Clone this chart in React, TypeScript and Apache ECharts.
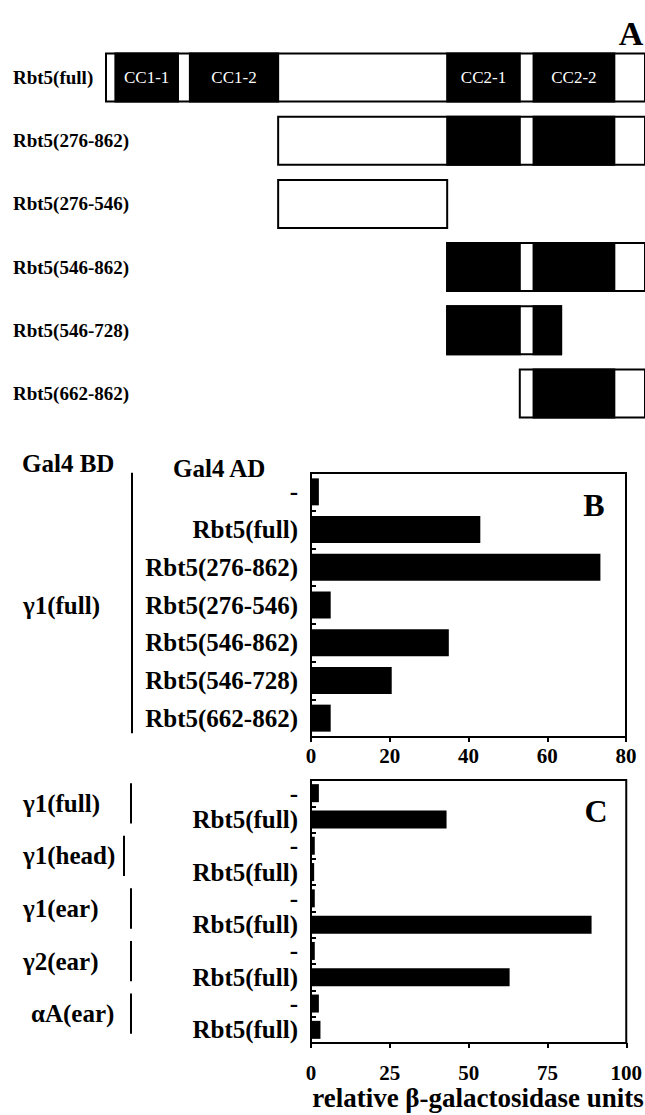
import React, { useEffect, useRef } from "react";
import * as echarts from "echarts";

// ---------- Panel A: construct schematic (residue numbers) ----------
const constructNames = ["Rbt5(full)", "Rbt5(276-862)", "Rbt5(276-546)", "Rbt5(546-862)", "Rbt5(546-728)", "Rbt5(662-862)"];
const constructStart = [1, 276, 276, 546, 546, 662];
const constructEnd = [862, 862, 546, 862, 728, 862];
const domainNames = ["CC1-1", "CC1-2", "CC2-1", "CC2-2"];
const domainStart = [16, 135, 546, 684];
const domainEnd = [116, 276, 662, 813];

// ---------- Panel B ----------
const panelBCategories = ["-", "Rbt5(full)", "Rbt5(276-862)", "Rbt5(276-546)", "Rbt5(546-862)", "Rbt5(546-728)", "Rbt5(662-862)"];
const panelBValues = [2, 43, 73.5, 5, 35, 20.5, 5];
const panelBBait = "γ1(full)";

// ---------- Panel C ----------
const panelCCategories = ["-", "Rbt5(full)", "-", "Rbt5(full)", "-", "Rbt5(full)", "-", "Rbt5(full)", "-", "Rbt5(full)"];
const panelCValues = [2.5, 43, 1.2, 1, 1.2, 89, 1.2, 63, 2.5, 3];
const panelCBaits = ["γ1(full)", "γ1(head)", "γ1(ear)", "γ2(ear)", "αA(ear)"];

const xTitle = "relative β-galactosidase units";
const FONT = '"Liberation Serif", "Times New Roman", serif';

function buildSegments() {
  const data: any[] = [];
  const labels: string[] = [];
  constructNames.forEach((_, i) => {
    data.push([i, constructStart[i], constructEnd[i], 0]);
    labels.push("");
    domainNames.forEach((dn, d) => {
      const s = Math.max(constructStart[i], domainStart[d]);
      const e = Math.min(constructEnd[i], domainEnd[d]);
      if (e > s) {
        data.push([i, s, e, 1]);
        labels.push(i === 0 ? dn : "");
      }
    });
  });
  return { data, labels };
}

export default function App() {
  const ref = useRef<HTMLDivElement>(null);
  useEffect(() => {
    if (!ref.current) return;
    const chart = echarts.init(ref.current, null, { renderer: "svg" });
    const seg = buildSegments();
    const boldLabel = { fontFamily: FONT, fontWeight: "bold" as const, color: "#000" };

    const option: any = {
      animation: false,
      backgroundColor: "#fff",
      grid: [
        { left: 106, right: -3, top: 46, height: 379 },
        { left: 311, right: 19, top: 473, height: 264, show: true, borderColor: "#000", borderWidth: 2 },
        { left: 311, right: 17, top: 780, height: 263, show: true, borderColor: "#000", borderWidth: 2 },
      ],
      xAxis: [
        { gridIndex: 0, type: "value", min: 1, max: 862, show: false },
        {
          gridIndex: 1, type: "value", min: 0, max: 80, interval: 20,
          splitLine: { show: false },
          axisLine: { show: true, lineStyle: { color: "#000", width: 2 } },
          axisTick: { show: true, length: 5, lineStyle: { color: "#000", width: 2 } },
          axisLabel: { ...boldLabel, fontSize: 21, margin: 8 },
        },
        {
          gridIndex: 2, type: "value", min: 0, max: 100, interval: 25,
          splitLine: { show: false },
          axisLine: { show: true, lineStyle: { color: "#000", width: 2 } },
          axisTick: { show: true, length: 5, lineStyle: { color: "#000", width: 2 } },
          axisLabel: { ...boldLabel, fontSize: 21, margin: 19 },
        },
      ],
      yAxis: [
        {
          gridIndex: 0, type: "category", data: constructNames, inverse: true,
          axisLine: { show: false }, axisTick: { show: false },
          axisLabel: { ...boldLabel, fontSize: 19, align: "left", margin: 93, interval: 0 },
        },
        {
          gridIndex: 1, type: "category", data: panelBCategories, inverse: true,
          axisLine: { show: true, lineStyle: { color: "#000", width: 2 } },
          axisTick: { show: true, inside: true, length: 5, interval: 0, lineStyle: { color: "#000", width: 2 } },
          axisLabel: { ...boldLabel, fontSize: 25, margin: 13, interval: 0 },
        },
        {
          gridIndex: 2, type: "category", data: panelCCategories, inverse: true,
          axisLine: { show: true, lineStyle: { color: "#000", width: 2 } },
          axisTick: { show: true, inside: true, length: 5, interval: 0, lineStyle: { color: "#000", width: 2 } },
          axisLabel: { ...boldLabel, fontSize: 25, margin: 13, interval: 0 },
        },
      ],
      series: [
        {
          type: "custom",
          xAxisIndex: 0,
          yAxisIndex: 0,
          encode: { x: [1, 2], y: 0 },
          data: seg.data,
          clip: false,
          renderItem: (params: any, api: any) => {
            const row = api.value(0);
            const s = api.value(1);
            const e = api.value(2);
            const filled = api.value(3);
            const p0 = api.coord([s, row]);
            const p1 = api.coord([e, row]);
            const h = api.size([0, 1])[1] * 0.76;
            const label = seg.labels[params.dataIndex];
            const children: any[] = [
              {
                type: "rect",
                shape: { x: p0[0], y: p0[1] - h / 2, width: p1[0] - p0[0], height: h },
                style: { fill: filled ? "#000" : "#fff", stroke: "#000", lineWidth: 2 },
              },
            ];
            if (label) {
              children.push({
                type: "text",
                x: (p0[0] + p1[0]) / 2,
                y: p0[1],
                style: {
                  text: label, fill: "#fff", fontSize: 17, fontFamily: FONT,
                  align: "center", verticalAlign: "middle",
                },
              });
            }
            return { type: "group", children };
          },
        },
        {
          type: "bar", xAxisIndex: 1, yAxisIndex: 1, data: panelBValues,
          barWidth: 27, itemStyle: { color: "#000" },
        },
        {
          type: "bar", xAxisIndex: 2, yAxisIndex: 2, data: panelCValues,
          barWidth: 18, itemStyle: { color: "#000" },
        },
      ],
    };
    chart.setOption(option);

    const yB = (i: number) => chart.convertToPixel({ yAxisIndex: 1 } as any, i) as number;
    const yC = (i: number) => chart.convertToPixel({ yAxisIndex: 2 } as any, i) as number;
    const txt = (text: string, x: number, y: number, fontSize: number, align = "left") => ({
      type: "text", x, y,
      style: { text, fill: "#000", fontSize, fontWeight: "bold", fontFamily: FONT, align, verticalAlign: "middle" },
    });
    const vline = (x: number, y1: number, y2: number) => ({
      type: "line", shape: { x1: x, y1, x2: x, y2 }, style: { stroke: "#000", lineWidth: 2 },
    });

    const graphic: any[] = [
      txt("A", 631, 33, 34, "center"),
      txt("Gal4 BD", 22, 463, 25),
      txt("Gal4 AD", 173, 468, 25),
      txt("B", 594, 505, 32, "center"),
      txt("C", 596, 811, 32, "center"),
      vline(132, yB(0) - 19, yB(panelBCategories.length - 1) + 15),
      txt(panelBBait, 23, (yB(0) + yB(panelBCategories.length - 1)) / 2, 25),
      txt(xTitle, 478, 1098, 27, "center"),
    ];
    panelCBaits.forEach((b, k) => {
      const a = yC(2 * k);
      const c = yC(2 * k + 1);
      graphic.push(txt(b, b.startsWith("α") ? 31 : 23, (a + c) / 2 - 3, 25));
      graphic.push(vline(b === "γ1(head)" ? 124 : 131, a - 10, c + 4));
    });
    chart.setOption({ graphic });

    return () => chart.dispose();
  }, []);
  return <div ref={ref} style={{ position: "absolute", left: 0, top: 0, width: 645, height: 1115 }} />;
}
